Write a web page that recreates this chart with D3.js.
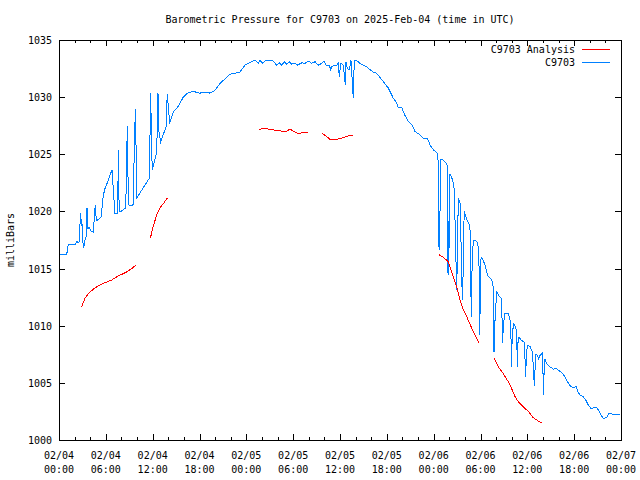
<!DOCTYPE html>
<html>
<head>
<meta charset="utf-8">
<script src="https://cdn.jsdelivr.net/npm/d3@7"></script>
<style>
  html, body { margin: 0; padding: 0; background: #fff; }
  svg { display: block; }
  text { font-family: "DejaVu Sans Mono", "Liberation Mono", monospace; font-size: 10px; fill: #000; }
</style>
</head>
<body>
<svg id="chart" width="640" height="480"></svg>
<script>
// ---------- DATA ----------
const chartTitle = "Barometric Pressure for C9703 on 2025-Feb-04 (time in UTC)";
const yAxisLabel = "milliBars";
const seriesNames = ["C9703 Analysis", "C9703"];
const startUTC = Date.UTC(2025, 1, 4, 0, 0);   // 2025-02-04 00:00 UTC
const endUTC = Date.UTC(2025, 1, 7, 0, 0);     // 2025-02-07 00:00 UTC
const yTicks = [1000, 1005, 1010, 1015, 1020, 1025, 1030, 1035];
const xMajorTickHours = [0, 6, 12, 18, 24, 30, 36, 42, 48, 54, 60, 66, 72];
const xMinorTickHours = [2, 4, 8, 10, 14, 16, 20, 22, 26, 28, 32, 34, 38, 40, 44, 46, 50, 52, 56, 58, 62, 64, 68, 70];

// Station observations (hours since start, millibars)
const stationHours = [
  0.00, 0.99, 1.19, 2.05, 2.27, 2.56, 2.78, 2.86, 2.92, 3.11, 3.24, 3.33, 3.46, 3.59, 3.68, 3.88,
  4.10, 4.39, 4.52, 4.65, 4.74, 4.83, 5.03, 5.38, 5.68, 5.89, 6.24, 6.53, 6.79, 6.96, 7.17, 7.52,
  7.60, 7.69, 7.75, 7.94, 8.55, 8.75, 8.84, 8.97, 9.48, 9.78, 9.99, 11.57, 11.75, 11.85, 11.95,
  12.52, 12.68, 12.81, 13.03, 13.71, 13.87, 13.96, 14.18, 14.64, 15.28, 15.92, 16.56, 17.21,
  18.06, 18.70, 19.35, 19.99, 20.63, 21.27, 21.91, 22.55, 23.19, 23.83, 24.69, 25.11, 25.54,
  25.75, 26.05, 26.39, 26.82, 27.46, 27.88, 28.22, 28.53, 28.87, 29.17, 29.51, 29.81, 30.23,
  30.53, 31.09, 31.52, 31.94, 32.37, 32.80, 33.22, 33.65, 33.95, 34.21, 34.63, 34.81, 34.94,
  35.58, 35.79, 35.91, 36.09, 36.43, 36.68, 36.77, 36.94, 37.19, 37.41, 37.70, 37.83, 38.14,
  38.56, 38.99, 39.42, 39.84, 40.27, 40.70, 40.91, 41.55, 42.19, 42.83, 43.26, 43.47, 43.90,
  44.33, 44.75, 45.19, 45.61, 46.25, 46.67, 47.11, 47.31, 47.53, 47.95, 48.51, 48.55, 48.61,
  48.69, 48.77, 48.86, 48.94, 49.20, 49.63, 49.76, 49.84, 49.92, 49.97, 50.09, 50.30, 50.51,
  50.64, 50.95, 51.07, 51.15, 51.37, 51.50, 51.67, 51.76, 51.84, 51.92, 52.23, 52.65, 52.74,
  52.82, 52.90, 53.07, 53.51, 53.72, 53.84, 53.90, 53.98, 54.07, 54.36, 54.58, 54.80, 55.00,
  55.44, 55.64, 55.73, 55.86, 56.07, 56.28, 56.63, 56.80, 56.84, 56.92, 57.14, 57.56, 57.78,
  57.91, 57.95, 58.04, 58.21, 58.51, 58.64, 58.72, 58.80, 58.93, 59.28, 59.57, 59.70, 59.78,
  59.86, 59.99, 60.34, 60.63, 60.81, 60.89, 60.98, 61.11, 61.28, 61.46, 61.63, 61.92, 62.01,
  62.05, 62.14, 62.23, 62.48, 62.91, 63.33, 63.68, 63.98, 64.41, 64.84, 65.26, 65.57, 65.90,
  66.24, 66.49, 66.80, 67.13, 67.48, 67.77, 68.11, 68.45, 68.89, 69.21, 69.52, 69.73, 70.16,
  70.45, 70.75, 71.20, 71.87
];
const stationValues = [
  1016.25, 1016.25, 1017.1, 1017.1, 1017.35, 1017.27, 1019.9, 1018.7, 1019.3, 1016.8, 1017.1, 1017.5, 1017.7, 1020.3, 1018.5, 1018.6,
  1018.3, 1018.2, 1019.4, 1020.6, 1019.6, 1019.2, 1019.3, 1019.5, 1021.4, 1022.0, 1022.6, 1023.2, 1023.6, 1021.9, 1019.8, 1019.8,
  1025.4, 1021.0, 1020.0, 1020.0, 1020.3, 1027.5, 1023.0, 1020.56, 1020.56, 1029.0, 1021.2, 1022.9, 1030.4, 1026.0, 1023.6,
  1025.2, 1030.4, 1027.0, 1026.1, 1027.4, 1030.3, 1029.5, 1027.7, 1028.7, 1029.2, 1030.0, 1030.4, 1030.5,
  1030.35, 1030.45, 1030.35, 1030.6, 1031.2, 1031.6, 1032.0, 1032.1, 1032.2, 1032.8, 1033.1, 1033.25, 1032.96,
  1033.25, 1032.96, 1033.16, 1033.25, 1033.16, 1032.8, 1033.0, 1032.8, 1033.1, 1032.9, 1033.1, 1032.9, 1032.96,
  1032.8, 1033.0, 1032.96, 1033.16, 1032.96, 1033.1, 1032.8, 1032.96, 1033.16, 1032.8, 1032.8, 1032.4, 1032.7,
  1032.8, 1032.96, 1031.8, 1032.96, 1032.8, 1031.1, 1033.1, 1032.5, 1032.4, 1033.2, 1029.95, 1033.25, 1033.2,
  1032.96, 1032.8, 1032.67, 1032.4, 1032.2, 1032.08, 1031.9, 1031.35, 1030.8, 1029.9, 1029.5, 1029.1, 1029.1,
  1028.4, 1027.9, 1027.6, 1027.0, 1026.7, 1026.4, 1026.4, 1026.25, 1025.8, 1025.4, 1025.08, 1024.9, 1020.85,
  1016.6, 1018.7, 1021.5, 1024.6, 1024.5, 1024.2, 1024.0, 1014.4, 1019.2, 1016.8, 1023.3, 1023.0, 1022.5,
  1021.9, 1013.1, 1017.2, 1021.1, 1020.9, 1017.4, 1012.25, 1014.3, 1017.9, 1020.0, 1019.3, 1018.7, 1014.6,
  1010.8, 1014.6, 1017.5, 1017.4, 1016.9, 1014.6, 1009.2, 1013.1, 1016.0, 1015.7, 1015.3, 1014.7, 1014.3,
  1014.0, 1013.4, 1007.7, 1010.5, 1013.0, 1012.7, 1012.4, 1010.1, 1008.5, 1010.0, 1011.1, 1011.1, 1010.5,
  1008.8, 1006.4, 1008.5, 1010.2, 1009.9, 1009.3, 1006.4, 1008.5, 1009.0, 1008.7, 1008.6, 1007.1, 1005.5,
  1007.0, 1008.3, 1008.2, 1007.7, 1006.1, 1004.7, 1006.1, 1007.5, 1007.4, 1007.1, 1007.4, 1007.6, 1005.8,
  1003.9, 1005.8, 1007.1, 1006.7, 1006.4, 1006.2, 1006.3, 1006.1, 1005.9, 1005.5, 1004.96, 1004.67, 1004.6,
  1004.67, 1004.2, 1003.9, 1003.8, 1003.5, 1003.1, 1002.8, 1002.8, 1002.85, 1002.5, 1002.1, 1001.9, 1001.95,
  1002.3, 1002.3, 1002.2, 1002.2
];

// Analysis series (null = gap)
const analysisHours = [
  2.91, 3.33, 3.75, 4.39, 5.03, 5.89, 6.75, 7.60, 8.67, 9.31, 9.83, 10.8,
  11.70, 12.08, 12.52, 12.94, 13.49, 13.93, 18.0,
  25.66, 26.26, 26.94, 27.67, 28.31, 28.95, 29.59, 30.11, 30.66, 31.30, 31.86, 32.8,
  33.73, 34.21, 34.72, 35.58, 36.43, 37.06, 37.70, 43.0,
  48.72, 49.23, 49.87, 50.18, 50.51, 50.95, 51.37, 51.72, 52.23, 52.87, 53.42, 53.84, 54.8,
  55.73, 56.28, 56.92, 57.56, 57.99, 58.42, 58.85, 59.49, 60.13, 60.69, 61.30, 61.92
];
const analysisValues = [
  1011.67, 1012.4, 1012.8, 1013.2, 1013.5, 1013.76, 1014.0, 1014.35, 1014.7, 1015.0, 1015.3, null,
  1017.65, 1018.7, 1019.7, 1020.3, 1020.8, 1021.2, null,
  1027.18, 1027.27, 1027.2, 1027.1, 1027.05, 1026.95, 1027.2, 1027.0, 1026.8, 1026.9, 1026.9, null,
  1026.8, 1026.6, 1026.3, 1026.3, 1026.45, 1026.6, 1026.7, null,
  1016.2, 1016.0, 1015.6, 1015.0, 1014.3, 1013.4, 1012.25, 1011.5, 1010.8, 1009.8, 1009.0, 1008.46, null,
  1007.15, 1006.4, 1005.8, 1005.1, 1004.5, 1003.8, 1003.35, 1002.9, 1002.5, 1002.0, 1001.7, 1001.46
];

const colors = { analysis: "#ff0000", station: "#0080ff" };

// ---------- CHART ----------
const svg = d3.select("#chart");
const plotLeft = 59, plotRight = 621, plotTop = 40, plotBottom = 440;
const toDate = h => new Date(startUTC + h * 3600 * 1000);

const x = d3.scaleUtc().domain([new Date(startUTC), new Date(endUTC)]).range([plotLeft, plotRight]);
const y = d3.scaleLinear().domain([1000, 1035]).range([plotBottom, plotTop]);

const station = stationHours.map((h, i) => ({ t: toDate(h), v: stationValues[i] }));
const analysis = analysisHours.map((h, i) => ({ t: toDate(h), v: analysisValues[i] }));

const line = d3.line()
  .defined(d => d.v !== null)
  .x(d => x(d.t))
  .y(d => y(d.v));

// data lines
svg.append("path").datum(station)
  .attr("d", line).attr("fill", "none")
  .attr("stroke", colors.station).attr("stroke-width", 1)
  .attr("shape-rendering", "crispEdges");
svg.append("path").datum(analysis)
  .attr("d", line).attr("fill", "none")
  .attr("stroke", colors.analysis).attr("stroke-width", 1)
  .attr("shape-rendering", "crispEdges");

// axes
const fmtDate = d3.utcFormat("%m/%d"), fmtTime = d3.utcFormat("%H:%M");
const majorDates = xMajorTickHours.map(toDate);
const minorDates = xMinorTickHours.map(toDate);

function styleAxis(g) {
  g.selectAll("path, line").attr("stroke", "#000").attr("shape-rendering", "crispEdges");
  g.selectAll("text").remove();
}

svg.append("g").attr("transform", `translate(0,${plotBottom})`)
  .call(d3.axisBottom(x).tickValues(majorDates).tickSizeInner(-6).tickSizeOuter(0).tickFormat(""))
  .call(styleAxis);
svg.append("g").attr("transform", `translate(0,${plotBottom})`)
  .call(d3.axisBottom(x).tickValues(minorDates).tickSizeInner(-3).tickSizeOuter(0).tickFormat(""))
  .call(styleAxis);
svg.append("g").attr("transform", `translate(0,${plotTop})`)
  .call(d3.axisTop(x).tickValues(majorDates).tickSizeInner(-6).tickSizeOuter(0).tickFormat(""))
  .call(styleAxis);
svg.append("g").attr("transform", `translate(0,${plotTop})`)
  .call(d3.axisTop(x).tickValues(minorDates).tickSizeInner(-3).tickSizeOuter(0).tickFormat(""))
  .call(styleAxis);
svg.append("g").attr("transform", `translate(${plotLeft},0)`)
  .call(d3.axisLeft(y).tickValues(yTicks).tickSizeInner(-6).tickSizeOuter(0).tickFormat(""))
  .call(styleAxis);
svg.append("g").attr("transform", `translate(${plotRight},0)`)
  .call(d3.axisRight(y).tickValues(yTicks).tickSizeInner(-6).tickSizeOuter(0).tickFormat(""))
  .call(styleAxis);

// x tick labels (two lines)
const xl = svg.append("g");
majorDates.forEach(d => {
  const t = xl.append("text").attr("x", x(d)).attr("text-anchor", "middle");
  t.append("tspan").attr("x", x(d)).attr("y", 459).text(fmtDate(d));
  t.append("tspan").attr("x", x(d)).attr("y", 473).text(fmtTime(d));
});

// y tick labels
svg.append("g").selectAll("text").data(yTicks).join("text")
  .attr("x", 52).attr("y", d => y(d) + 4)
  .attr("text-anchor", "end").text(d => d);

// title
svg.append("text").attr("x", 340).attr("y", 23).attr("text-anchor", "middle").text(chartTitle);

// y label
svg.append("text").attr("transform", "translate(14,240) rotate(-90)")
  .attr("text-anchor", "middle").text(yAxisLabel);

// legend
const legend = [
  { name: seriesNames[0], color: colors.analysis, yy: 49 },
  { name: seriesNames[1], color: colors.station, yy: 62 }
];
legend.forEach(l => {
  svg.append("text").attr("x", 575).attr("y", l.yy + 4).attr("text-anchor", "end").text(l.name);
  svg.append("line").attr("x1", 582).attr("x2", 610).attr("y1", l.yy + 0.5).attr("y2", l.yy + 0.5)
    .attr("stroke", l.color).attr("stroke-width", 1).attr("shape-rendering", "crispEdges");
});
</script>
</body>
</html>
